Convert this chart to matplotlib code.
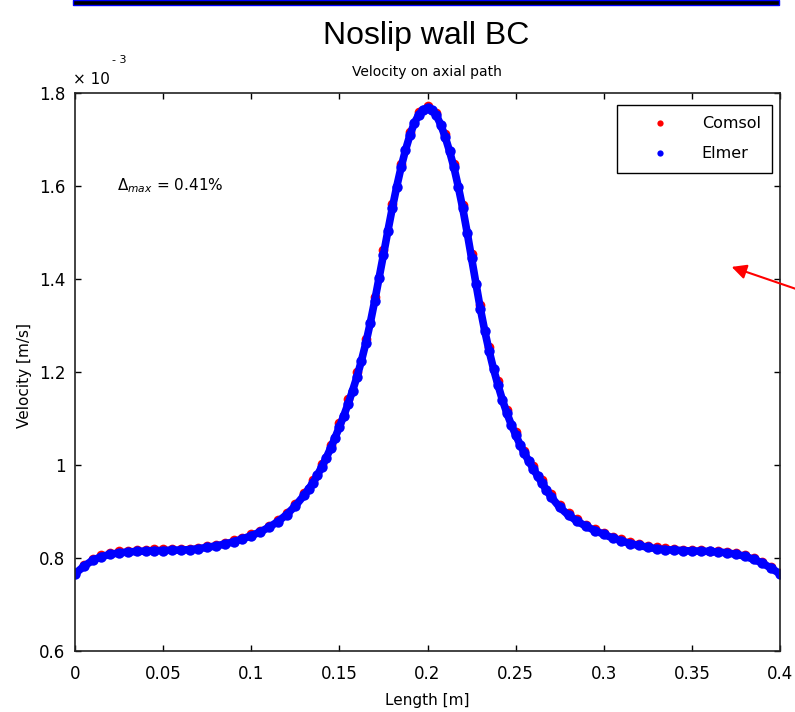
import numpy as np
import matplotlib
matplotlib.use("Agg")
import matplotlib.pyplot as plt
from matplotlib.lines import Line2D
from matplotlib.patches import Rectangle, FancyArrowPatch

# Axial velocity profile, values in units of 1e-3 m/s
elmer_x = [0.000, 0.005, 0.010, 0.015, 0.020, 0.025, 0.030, 0.035, 0.040, 0.045,
           0.050, 0.055, 0.060, 0.065, 0.070, 0.075, 0.080, 0.085, 0.090, 0.095,
           0.100, 0.105, 0.110, 0.115, 0.120, 0.125, 0.130, 0.1325, 0.135, 0.1375,
           0.140, 0.1425, 0.145, 0.1475, 0.150, 0.1525, 0.155, 0.1575, 0.160, 0.1625,
           0.165, 0.1675, 0.170, 0.1725, 0.175, 0.1775, 0.180, 0.1825, 0.185, 0.1875,
           0.190, 0.1925, 0.195, 0.1975, 0.200, 0.2025, 0.205, 0.2075, 0.210, 0.2125,
           0.215, 0.2175, 0.220, 0.2225, 0.225, 0.2275, 0.230, 0.2325, 0.235, 0.2375,
           0.240, 0.2425, 0.245, 0.2475, 0.250, 0.2525, 0.255, 0.2575, 0.260, 0.2625,
           0.265, 0.2675, 0.270, 0.275, 0.280, 0.285, 0.290, 0.295, 0.300, 0.305,
           0.310, 0.315, 0.320, 0.325, 0.330, 0.335, 0.340, 0.345, 0.350, 0.355,
           0.360, 0.365, 0.370, 0.375, 0.380, 0.385, 0.390, 0.395, 0.400]
elmer_v = [0.766, 0.782, 0.795, 0.803, 0.808, 0.811, 0.813, 0.814, 0.815, 0.816,
           0.816, 0.817, 0.817, 0.818, 0.820, 0.823, 0.826, 0.830, 0.835, 0.841,
           0.848, 0.856, 0.866, 0.878, 0.893, 0.912, 0.935, 0.948, 0.962, 0.978,
           0.996, 1.015, 1.036, 1.058, 1.082, 1.106, 1.132, 1.160, 1.190, 1.224,
           1.262, 1.305, 1.352, 1.402, 1.452, 1.503, 1.552, 1.598, 1.640, 1.677,
           1.709, 1.735, 1.753, 1.764, 1.768, 1.764, 1.752, 1.732, 1.706, 1.675,
           1.640, 1.598, 1.552, 1.500, 1.445, 1.390, 1.336, 1.288, 1.245, 1.206,
           1.172, 1.140, 1.112, 1.087, 1.065, 1.044, 1.025, 1.008, 0.992, 0.976,
           0.961, 0.946, 0.932, 0.909, 0.892, 0.879, 0.868, 0.859, 0.851, 0.843,
           0.837, 0.831, 0.827, 0.823, 0.820, 0.818, 0.817, 0.816, 0.815, 0.815,
           0.814, 0.813, 0.811, 0.808, 0.804, 0.797, 0.789, 0.778, 0.766]

comsol_x = [0.000, 0.005, 0.010, 0.015, 0.020, 0.025, 0.030, 0.035, 0.040, 0.045,
            0.050, 0.055, 0.060, 0.065, 0.070, 0.075, 0.080, 0.085, 0.090, 0.095,
            0.100, 0.105, 0.110, 0.115, 0.120, 0.125, 0.130, 0.135, 0.140, 0.145,
            0.150, 0.155, 0.160, 0.165, 0.170, 0.175, 0.180, 0.185, 0.190, 0.195,
            0.200, 0.205, 0.210, 0.215, 0.220, 0.225, 0.230, 0.235, 0.240, 0.245,
            0.250, 0.255, 0.260, 0.265, 0.270, 0.275, 0.280, 0.285, 0.290, 0.295,
            0.300, 0.305, 0.310, 0.315, 0.320, 0.325, 0.330, 0.335, 0.340, 0.345,
            0.350, 0.355, 0.360, 0.365, 0.370, 0.375, 0.380, 0.385, 0.390, 0.395,
            0.400]
comsol_v = [0.768, 0.785, 0.798, 0.806, 0.811, 0.814, 0.816, 0.817, 0.818, 0.819,
            0.819, 0.819, 0.819, 0.820, 0.822, 0.825, 0.829, 0.833, 0.838, 0.844,
            0.851, 0.859, 0.869, 0.881, 0.897, 0.916, 0.940, 0.968, 1.002, 1.043,
            1.090, 1.141, 1.199, 1.272, 1.362, 1.462, 1.562, 1.648, 1.716, 1.759,
            1.772, 1.757, 1.712, 1.647, 1.560, 1.454, 1.345, 1.254, 1.180, 1.119,
            1.071, 1.031, 0.998, 0.967, 0.938, 0.914, 0.897, 0.883, 0.872, 0.862,
            0.854, 0.846, 0.840, 0.834, 0.830, 0.826, 0.823, 0.821, 0.819, 0.818,
            0.818, 0.817, 0.816, 0.815, 0.813, 0.810, 0.806, 0.800, 0.791, 0.780,
            0.768]

x_ticks = [0, 0.05, 0.1, 0.15, 0.2, 0.25, 0.3, 0.35, 0.4]
x_ticklabels = ['0', '0.05', '0.1', '0.15', '0.2', '0.25', '0.3', '0.35', '0.4']
y_ticks = [0.6, 0.8, 1.0, 1.2, 1.4, 1.6, 1.8]
y_ticklabels = ['0.6', '0.8', '1', '1.2', '1.4', '1.6', '1.8']

W, H = 795, 712
fig = plt.figure(figsize=(W / 100, H / 100), dpi=100)
fig.patch.set_facecolor('white')

# slide header bar and slide title
fig.patches.append(Rectangle((73 / W, 1 - 5 / H), 706 / W, 5 / H, transform=fig.transFigure,
                             facecolor='black', edgecolor='#0000ff', linewidth=1.0))
fig.text(426 / W, 1 - 44 / H, 'Noslip wall BC', ha='center', va='baseline',
         fontsize=23, family='Liberation Sans')

ax = fig.add_axes([75 / W, 61 / H, 705 / W, 558 / H])

ax.plot(comsol_x, comsol_v, ls='none', marker='o', ms=7, mec='none', color='#ff0000')
ax.plot(elmer_x, elmer_v, ls='-', lw=5.5, marker='o', ms=7.5, mec='none', color='#0000ff')

ax.set_xlim(0, 0.4)
ax.set_ylim(0.6, 1.8)
ax.set_xticks(x_ticks)
ax.set_xticklabels(x_ticklabels)
ax.set_yticks(y_ticks)
ax.set_yticklabels(y_ticklabels)
ax.tick_params(direction='in', length=4, width=1, top=True, right=True,
               labelsize=12, colors='black')
ax.tick_params(axis='x', pad=10)
ax.tick_params(axis='y', pad=7)
for s in ax.spines.values():
    s.set_linewidth(1.2)
    s.set_color('#222222')

handles = [Line2D([], [], ls='none', marker='o', ms=4.5, mec='none', color='#ff0000'),
           Line2D([], [], ls='none', marker='o', ms=4.5, mec='none', color='#0000ff')]
leg = ax.legend(handles, ['Comsol', 'Elmer'], loc='upper right',
                bbox_to_anchor=(697 / 705, (651 - 105) / 558), borderaxespad=0,
                fontsize=11.5, frameon=True, fancybox=False, framealpha=1,
                borderpad=0.7, handlelength=4.0, handletextpad=0.6, labelspacing=0.95)
leg.get_frame().set_edgecolor('black')
leg.get_frame().set_linewidth(1.0)

ax.text((117 - 75) / 705, (651 - 186) / 558, r'$\Delta_{max}$ = 0.41%',
        transform=ax.transAxes, fontsize=11, va='center', ha='left')

# axis texts
fig.text(427 / W, 1 - 72 / H, 'Velocity on axial path', ha='center', va='center', fontsize=10)
fig.text(427 / W, 1 - 701 / H, 'Length [m]', ha='center', va='center', fontsize=11)
fig.text(25 / W, 1 - 376 / H, 'Velocity [m/s]', ha='center', va='center',
         rotation=90, fontsize=11)
fig.text(73 / W, 1 - 79 / H, u'\u00d7 10', ha='left', va='center', fontsize=11)
fig.text(112 / W, 1 - 60 / H, '- 3', ha='left', va='center', fontsize=8)

# red pointer on the right
arrow = FancyArrowPatch((802 / W, 1 - 291 / H), (729 / W, 1 - 266 / H),
                        transform=fig.transFigure, arrowstyle='-|>', mutation_scale=22,
                        color='#ff0000', linewidth=1.5)
fig.patches.append(arrow)

fig.savefig('out.png', dpi=100)
